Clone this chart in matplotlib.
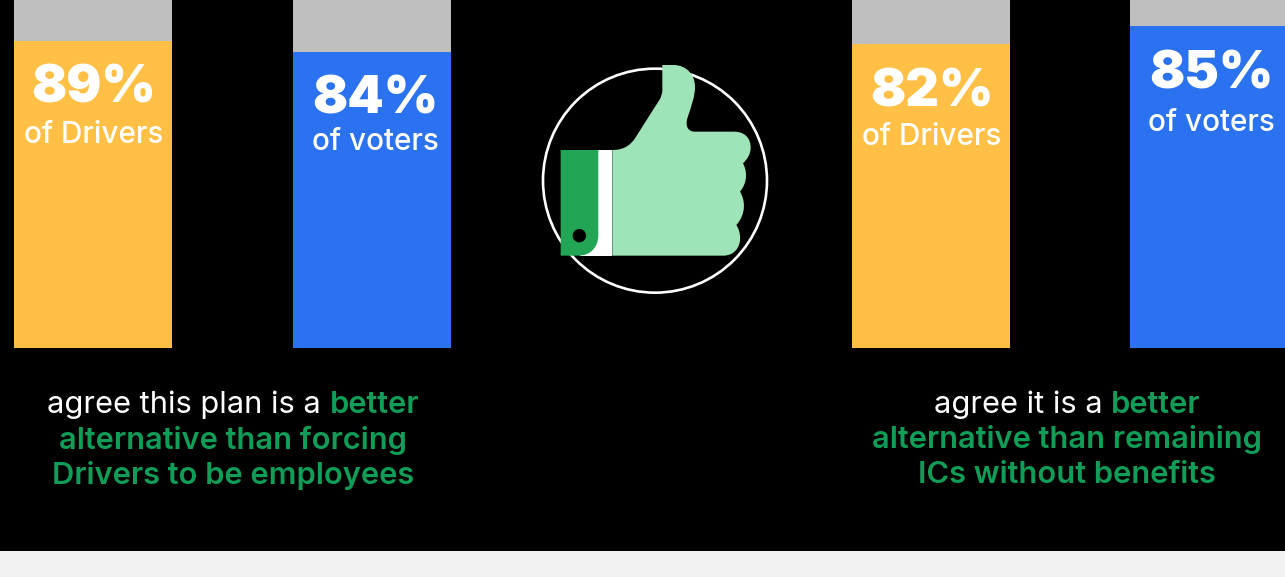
import matplotlib
matplotlib.use("Agg")
import matplotlib.pyplot as plt
from matplotlib.patches import Circle, PathPatch, Rectangle
from matplotlib.path import Path

# survey results, one bar each
groups = ["of Drivers", "of voters", "of Drivers", "of voters"]
shares = [89, 84, 82, 85]

left_caption = [("agree this plan is a ", "better"), ("", "alternative than forcing"), ("", "Drivers to be employees")]
right_caption = [("agree it is a ", "better"), ("", "alternative than remaining"), ("", "ICs without benefits")]

W, H = 1285, 577
BASELINE = 348
FONT = ["Inter", "DejaVu Sans"]
CAPTION_SIZE = 22.2

# each bar is its own panel: left edge, right edge, pixels per percentage point
panels = [(13.5, 171.5, 3.449), (293, 451, 3.524), (851.5, 1009.5, 3.705), (1130, 1288, 3.788)]
bar_colors = ["#FFC045", "#2B72F0", "#FFC045", "#2B72F0"]
label_pos = [(94, 89, 135), (375, 100, 142), (932, 93, 137), (1211, 75, 123)]

fig = plt.figure(figsize=(W / 100, H / 100), dpi=100, facecolor="black")

for group, share, (x0, x1, scale), color in zip(groups, shares, panels, bar_colors):
    ax = fig.add_axes([x0 / W, 1 - BASELINE / H, (x1 - x0) / W, BASELINE / H])
    top = BASELINE / scale
    ax.bar(0, share, width=1, color=color)
    ax.bar(0, top - share, bottom=share, width=1, color="#BFBFBF")
    ax.set_xlim(-0.5, 0.5)
    ax.set_ylim(0, top)
    ax.axis("off")

# overlay in pixel coordinates for the labels and the icon
ov = fig.add_axes([0, 0, 1, 1], zorder=5)
ov.set_xlim(0, W)
ov.set_ylim(H, 0)
ov.axis("off")
ov.patch.set_alpha(0)

ov.add_patch(Rectangle((0, 551), W, H - 551, color="#F2F2F2", lw=0))

for group, share, (cx, y_pct, y_grp) in zip(groups, shares, label_pos):
    ov.text(cx, y_pct, f"{share}%", color="white", fontsize=37.5, fontweight="black", family=FONT,
            ha="center", va="center")
    ov.text(cx, y_grp, group, color="white", fontsize=21.4, fontweight="medium", family=FONT,
            ha="center", va="center")


def caption_line(cx, y, white, green):
    # two colours on one line, so measure both runs and centre them together
    renderer = fig.canvas.get_renderer()
    a = ov.text(0, y, white, color="white", fontsize=CAPTION_SIZE, family=FONT, va="center", ha="left")
    b = ov.text(0, y, green, color="#0F9D58", fontsize=CAPTION_SIZE, fontweight="semibold", family=FONT,
                va="center", ha="left")
    wa = ov.text(0, 0, white.replace(" ", "\u00a0"), fontsize=CAPTION_SIZE, family=FONT, alpha=0)
    w1 = wa.get_window_extent(renderer).width if white else 0
    wa.remove()
    w2 = b.get_window_extent(renderer).width
    start = cx - (w1 + w2) / 2
    a.set_x(start)
    b.set_x(start + w1)


for i, (white, green) in enumerate(left_caption):
    caption_line(233, 405 + 35 * i, white, green)
for i, (white, green) in enumerate(right_caption):
    caption_line(1067, 405 + 35 * i, white, green)


def icon_xy(x, y):
    return (530 + x / 3, 55 + y / 3)


def icon_path(steps):
    verts, codes = [], []
    for code, pts in steps:
        for p in pts:
            verts.append(icon_xy(*p))
            codes.append(code)
    return Path(verts, codes)


M, L, C = Path.MOVETO, Path.LINETO, Path.CURVE4

ov.add_patch(Circle(icon_xy(375, 377), 112, fill=False, ec="white", lw=1.9))

hand = icon_path([
    (M, [(247, 285)]),
    (C, [(280, 285), (300, 272), (315, 250)]),
    (L, [(388, 135)]),
    (C, [(394, 125), (397, 115), (397, 105)]),
    (L, [(397, 30), (430, 30)]),
    (C, [(470, 30), (495, 60), (495, 95)]),
    (C, [(495, 125), (485, 150), (472, 190)]),
    (C, [(465, 215), (475, 230), (495, 230)]),
    (L, [(612, 230)]),
    (C, [(645, 230), (662, 250), (662, 278)]),
    (C, [(662, 298), (652, 312), (639, 325)]),
    (C, [(650, 345), (655, 380), (630, 410)]),
    (C, [(645, 435), (650, 475), (619, 510)]),
    (C, [(632, 530), (635, 560), (622, 580)]),
    (C, [(612, 595), (598, 602), (580, 602)]),
    (L, [(247, 602), (247, 285)]),
])
ov.add_patch(PathPatch(hand, fc="#9FE4B8", lw=0))

strip = icon_path([(M, [(150, 285)]), (L, [(247, 285), (247, 602), (150, 602), (150, 285)])])
ov.add_patch(PathPatch(strip, fc="white", lw=0))

cuff = icon_path([
    (M, [(92, 285)]),
    (L, [(205, 285), (205, 540)]),
    (C, [(205, 578), (180, 602), (145, 602)]),
    (L, [(92, 602), (92, 285)]),
])
ov.add_patch(PathPatch(cuff, fc="#22A655", lw=0))
ov.add_patch(Circle(icon_xy(148, 542), 6.7, fc="black", lw=0))

fig.savefig("out.png", dpi=100, facecolor="black")
